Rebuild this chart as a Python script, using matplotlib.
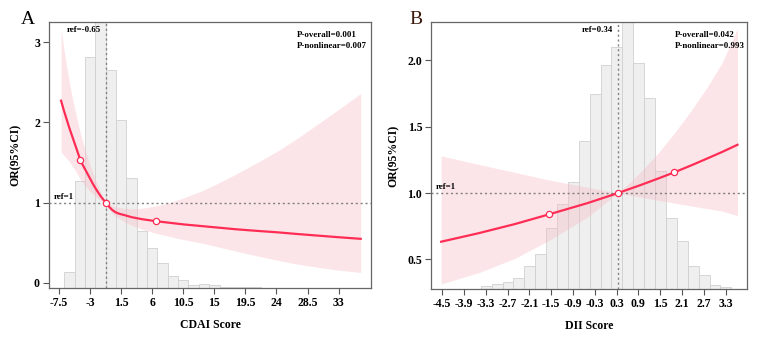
import matplotlib
matplotlib.use("Agg")
import matplotlib.pyplot as plt

plt.rcParams['font.family'] = ['Liberation Serif', 'DejaVu Serif']
plt.rcParams['font.weight'] = 'bold'

# ---- panel A : CDAI ----
cdai_edges_start = -6.75
cdai_bin_w = 1.5
cdai_hist = [0.133, 1.275, 2.81, 3.6, 2.65, 2.025, 1.31, 0.65, 0.434, 0.246,
             0.0875, 0.0375, -0.025, -0.016, -0.03, -0.045, -0.05, -0.055, -0.055]

cdai_x = [-7.2, -6.8, -6.4, -6.0, -5.6, -5.2, -4.8, -4.41, -4.0, -3.5, -3.0, -2.5,
          -2.0, -1.5, -1.0, -0.65, -0.3, 0.2, 0.7, 1.3, 2.0, 3.0, 4.5, 6.5, 8.5,
          10.5, 13, 15.5, 18, 21, 24.3, 27, 30, 33, 36.2]
cdai_or = [2.27, 2.15, 2.04, 1.93, 1.83, 1.73, 1.63, 1.53, 1.46, 1.38, 1.30, 1.22,
           1.15, 1.085, 1.03, 1.0, 0.955, 0.91, 0.88, 0.86, 0.845, 0.82, 0.795, 0.77,
           0.75, 0.73, 0.71, 0.69, 0.67, 0.65, 0.63, 0.61, 0.59, 0.57, 0.55]
cdai_up = [3.17, 2.92, 2.70, 2.50, 2.32, 2.16, 2.01, 1.87, 1.74, 1.60, 1.47, 1.35,
           1.24, 1.14, 1.05, 1.0, 0.985, 0.965, 0.95, 0.94, 0.93, 0.925, 0.93, 0.96,
           1.0, 1.06, 1.14, 1.24, 1.35, 1.49, 1.65, 1.80, 1.98, 2.16, 2.36]
cdai_lo = [1.63, 1.59, 1.55, 1.51, 1.46, 1.41, 1.35, 1.29, 1.24, 1.19, 1.14, 1.10,
           1.06, 1.03, 1.01, 1.0, 0.93, 0.87, 0.83, 0.80, 0.76, 0.72, 0.67, 0.62,
           0.58, 0.54, 0.50, 0.45, 0.40, 0.34, 0.28, 0.235, 0.195, 0.16, 0.13]
cdai_pts_x = [-4.41, -0.65, 6.5]
cdai_pts_y = [1.53, 1.0, 0.77]
cdai_ticks = [-7.5, -3, 1.5, 6, 10.5, 15, 19.5, 24, 28.5, 33]
cdai_ticklabels = ['-7.5', '-3', '1.5', '6', '10.5', '15', '19.5', '24', '28.5', '33']

# ---- panel B : DII ----
dii_edges_start = -3.44
dii_bin_w = 0.3
dii_hist = [0.297, 0.312, 0.331, 0.357, 0.447, 0.540, 0.74, 0.92, 1.08, 1.39,
            1.75, 1.965, 2.10, 2.45, 1.98, 1.72, 1.17, 0.81, 0.636, 0.452,
            0.382, 0.304, 0.29]

dii_x = [-4.53, -3.5, -2.5, -1.55, -0.5, 0.34, 0.65, 1.0, 1.45, 1.89, 2.35, 2.8, 3.2, 3.63]
dii_or = [0.633, 0.697, 0.766, 0.84, 0.924, 1.0, 1.03, 1.064, 1.11, 1.156, 1.208, 1.261, 1.309, 1.364]
dii_up = [1.28, 1.216, 1.156, 1.098, 1.044, 1.0, 1.077, 1.171, 1.303, 1.452, 1.62, 1.80, 1.98, 2.24]
dii_lo = [0.314, 0.399, 0.507, 0.644, 0.818, 1.0, 0.984, 0.967, 0.945, 0.924, 0.903, 0.882, 0.864, 0.83]
dii_pts_x = [-1.55, 0.34, 1.89]
dii_pts_y = [0.84, 1.0, 1.156]
dii_ticks = [-4.5, -3.9, -3.3, -2.7, -2.1, -1.5, -0.9, -0.3, 0.3, 0.9, 1.5, 2.1, 2.7, 3.3]
dii_ticklabels = ['-4.5', '-3.9', '-3.3', '-2.7', '-2.1', '-1.5', '-0.9', '-0.3',
                  '0.3', '0.9', '1.5', '2.1', '2.7', '3.3']

red = '#ff2d55'
band = '#f9bcc4'
grey_line = '#7f7f7f'


def panel(ax, edge0, w, hist, xs, ors, up, lo, px, py, ref, xlim, ylim,
          ticks, labels, yticks, ylabels, xlabel, ref_txt, p1, p2, ylpad):
    ax.set_xlim(xlim)
    ax.set_ylim(ylim)
    lefts = [edge0 + i * w for i in range(len(hist))]
    heights = [h - ylim[0] for h in hist]
    ax.bar(lefts, heights, width=w, bottom=ylim[0], align='edge',
           color='#efefef', edgecolor='#d0d0d0', linewidth=0.6, zorder=1)
    ax.fill_between(xs, lo, up, color=band, alpha=0.38, linewidth=0, zorder=2)
    ax.axhline(1, color=grey_line, ls=(0, (1.5, 2)), lw=1, zorder=3)
    ax.axvline(ref, color=grey_line, ls=(0, (1.5, 2)), lw=1, zorder=3)
    ax.plot(xs, ors, color=red, lw=1.6, zorder=4)
    ax.plot(px, py, 'o', ms=4.5, mfc='white', mec=red, mew=0.9, zorder=5)

    ax.set_xticks(ticks)
    ax.set_xticklabels(labels)
    ax.set_yticks(yticks)
    ax.set_yticklabels(ylabels)
    ax.tick_params(labelsize=8.5, length=4, width=0.8, color='#555555', pad=2.5)
    for s in ax.spines.values():
        s.set_color('#666666')
        s.set_linewidth(0.9)
    ax.set_xlabel(xlabel, fontsize=8.5, fontweight='bold', labelpad=7)
    ax.set_ylabel('OR(95%CI)', fontsize=8.5, fontweight='bold', labelpad=ylpad)

    ax.text(ref - (xlim[1] - xlim[0]) * 0.015, ylim[1] - (ylim[1] - ylim[0]) * 0.015,
            ref_txt, ha='right', va='top', fontsize=6.4, fontweight='bold')
    ax.text(xlim[0] + (xlim[1] - xlim[0]) * 0.015, 1 + (ylim[1] - ylim[0]) * 0.008,
            'ref=1', ha='left', va='bottom', fontsize=6.4, fontweight='bold')
    ax.text(0.77, 0.965, p1, transform=ax.transAxes, ha='left', va='top',
            fontsize=6.4, fontweight='bold')
    ax.text(0.77, 0.925, p2, transform=ax.transAxes, ha='left', va='top',
            fontsize=6.4, fontweight='bold')


fig = plt.figure(figsize=(7.79, 3.40), dpi=100)
axA = fig.add_axes([0.0629, 0.1529, 0.4134, 0.7824])
axB = fig.add_axes([0.5537, 0.1491, 0.4056, 0.7862])

panel(axA, cdai_edges_start, cdai_bin_w, cdai_hist, cdai_x, cdai_or, cdai_up, cdai_lo,
      cdai_pts_x, cdai_pts_y, -0.65, (-8.95, 37.7), (-0.0625, 3.25),
      cdai_ticks, cdai_ticklabels, [0, 1, 2, 3], ['0', '1', '2', '3'],
      'CDAI Score', 'ref=-0.65', 'P-overall=0.001', 'P-nonlinear=0.007', 9)
panel(axB, dii_edges_start, dii_bin_w, dii_hist, dii_x, dii_or, dii_up, dii_lo,
      dii_pts_x, dii_pts_y, 0.34, (-4.80, 3.90), (0.274, 2.29),
      dii_ticks, dii_ticklabels, [0.5, 1.0, 1.5, 2.0], ['0.5', '1.0', '1.5', '2.0'],
      'DII Score', 'ref=0.34', 'P-overall=0.042', 'P-nonlinear=0.993', 6)

fig.text(28 / 779, 1 - 20 / 340, 'A', fontsize=14, fontweight='normal',
         ha='center', va='center')
fig.text(416 / 779, 1 - 20 / 340, 'B', fontsize=14, fontweight='normal',
         ha='center', va='center', color='#3a1a0a')

fig.savefig('out.png', dpi=100)
